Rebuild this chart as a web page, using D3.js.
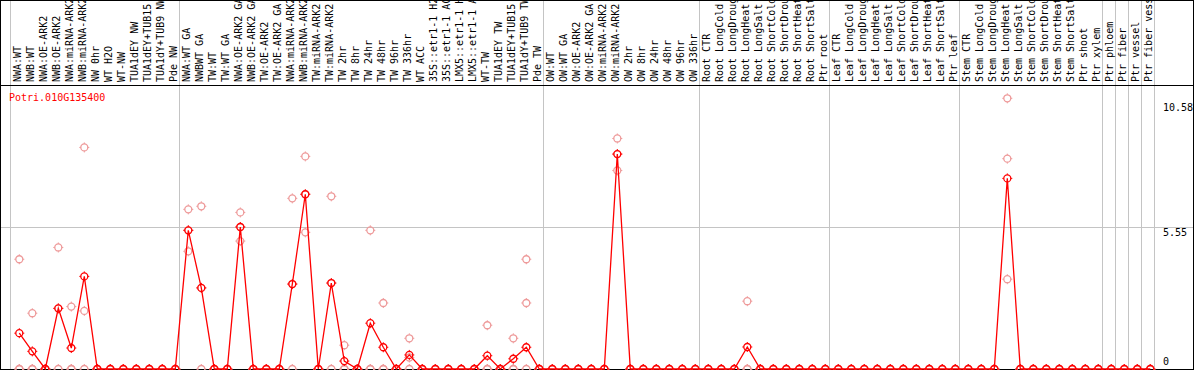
<!DOCTYPE html>
<html>
<head>
<meta charset="utf-8">
<script src="https://cdn.jsdelivr.net/npm/d3@7"></script>
<style>
  body { margin: 0; background: #fff; }
  svg { display: block; font-family: "DejaVu Sans Mono", monospace; }
</style>
</head>
<body>
<svg id="chart" width="1194" height="370"></svg>
<script>
/*
* Expression profile, one gene across 88 samples
*/

let geneName = 'Potri.010G135400';

let sampleLabels = [
  'NWA:WT', 'NWB:WT', 'NWA:OE-ARK2', 'NWB:OE-ARK2', 'NWA:miRNA-ARK2', 'NWB:miRNA-ARK2',
  'NW 0hr', 'WT H2O', 'WT-NW', 'TUA1dEY NW', 'TUA1dEY+TUB15 NW', 'TUA1dY+TUB9 NW', 'Pde NW',
  'NWA:WT GA', 'NWBWT GA', 'TW:WT', 'TW:WT GA', 'NWA:OE-ARK2 GA', 'NWB:OE-ARK2 GA',
  'TW:OE-ARK2', 'TW:OE-ARK2 GA', 'NWA:miRNA-ARK2 GA', 'NWB:miRNA-ARK2 GA', 'TW:miRNA-ARK2',
  'TW:miRNA-ARK2 GA', 'TW 2hr', 'TW 8hr', 'TW 24hr', 'TW 48hr', 'TW 96hr', 'TW 336hr', 'WT ACC',
  '35S::etr1-1 H2O', '35S::etr1-1 ACC', 'LMX5::etr1-1 H2O', 'LMX5::etr1-1 ACC', 'WT-TW',
  'TUA1dEY TW', 'TUA1dEY+TUB15 TW', 'TUA1dY+TUB9 TW', 'Pde TW',
  'OW:WT', 'OW:WT GA', 'OW:OE-ARK2', 'OW:OE-ARK2 GA', 'OW:miRNA-ARK2', 'OW:miRNA-ARK2 GA',
  'OW 2hr', 'OW 8hr', 'OW 24hr', 'OW 48hr', 'OW 96hr', 'OW 336hr',
  'Root CTR', 'Root LongCold', 'Root LongDrought', 'Root LongHeat', 'Root LongSalt',
  'Root ShortCold', 'Root ShortDrought', 'Root ShortHeat', 'Root ShortSalt', 'Ptr root',
  'Leaf CTR', 'Leaf LongCold', 'Leaf LongDrought', 'Leaf LongHeat', 'Leaf LongSalt',
  'Leaf ShortCold', 'Leaf ShortDrought', 'Leaf ShortHeat', 'Leaf ShortSalt', 'Ptr leaf',
  'Stem CTR', 'Stem LongCold', 'Stem LongDrought', 'Stem LongHeat', 'Stem LongSalt',
  'Stem ShortCold', 'Stem ShortDrought', 'Stem ShortHeat', 'Stem ShortSalt', 'Ptr shoot',
  'Ptr xylem', 'Ptr phloem', 'Ptr fiber', 'Ptr vessel', 'Ptr fiber vessel'
];

// mean expression per sample
let meanValues = [
  1.40, 0.69, 0, 2.37, 0.82, 3.62, 0, 0, 0, 0, 0, 0, 0,
  5.42, 3.17, 0, 0, 5.55, 0, 0, 0, 3.32, 6.83, 0, 3.36, 0.31, 0, 1.79, 0.85, 0, 0.55,
  0, 0, 0, 0, 0, 0.52, 0, 0.40, 0.85, 0,
  0, 0, 0, 0, 0, 8.40, 0, 0, 0, 0, 0, 0,
  0, 0, 0, 0.86, 0, 0, 0, 0, 0, 0,
  0, 0, 0, 0, 0, 0, 0, 0, 0, 0,
  0, 0, 0, 7.45, 0, 0, 0, 0, 0, 0,
  0, 0, 0, 0, 0
];

// replicate values per sample
let rep1 = [
  4.29, 2.18, 0, 4.75, 2.44, 8.66, 0, 0, 0, 0, 0, 0, 0,
  6.24, 6.36, 0, 0, 6.12, 0, 0, 0, 6.67, 8.31, 0, 6.75, 0.93, 0, 5.42, 2.58, 0, 1.20,
  0, 0, 0, 0, 0, 1.71, 0, 1.20, 4.29, 0,
  0, 0, 0, 0, 0, 9.01, 0, 0, 0, 0, 0, 0,
  0, 0, 0, 2.65, 0, 0, 0, 0, 0, 0,
  0, 0, 0, 0, 0, 0, 0, 0, 0, 0,
  0, 0, 0, 10.58, 0, 0, 0, 0, 0, 0,
  0, 0, 0, 0, 0
];
let rep2 = [
  0, 0, 0, 2.37, 0, 2.27, 0, 0, 0, 0, 0, 0, 0,
  4.60, 3.17, 0, 0, 5.00, 0, 0, 0, 3.32, 5.34, 0, 3.36, 0, 0, 0, 0, 0, 0.45,
  0, 0, 0, 0, 0, 0, 0, 0, 2.58, 0,
  0, 0, 0, 0, 0, 7.76, 0, 0, 0, 0, 0, 0,
  0, 0, 0, 0, 0, 0, 0, 0, 0, 0,
  0, 0, 0, 0, 0, 0, 0, 0, 0, 0,
  0, 0, 0, 8.22, 0, 0, 0, 0, 0, 0,
  0, 0, 0, 0, 0
];
let rep3 = [
  0, 0, 0, 0, 0, 0, 0, 0, 0, 0, 0, 0, 0,
  5.42, 0, 0, 0, 5.55, 0, 0, 0, 0, 6.83, 0, 0, 0, 0, 0, 0, 0, 0,
  0, 0, 0, 0, 0, 0, 0, 0, 0, 0,
  0, 0, 0, 0, 0, 8.40, 0, 0, 0, 0, 0, 0,
  0, 0, 0, 0, 0, 0, 0, 0, 0, 0,
  0, 0, 0, 0, 0, 0, 0, 0, 0, 0,
  0, 0, 0, 3.51, 0, 0, 0, 0, 0, 0,
  0, 0, 0, 0, 0
];

// index after which a tissue group ends
let groupEnds = [13, 41, 53, 63, 73, 84, 85, 86, 87, 88];
let yTicks = [10.58, 5.55, 0];
let yMax = 11.1;

let COLORS = {
  mean: '#ff0000',
  rep: '#ee9a9a',
  grid: '#c4c4c4',
  axis: '#000000'
};

let width = 1194;
let height = 370;
let headerBottom = 85;
let plotBottom = 369;
let colStep = 13;
let gridLeft = 11.2;
let pointOffset = 8.1;

window.onload = function () {
  drawChart();
};

function drawChart() {
  let svg = d3.select('#chart');

  let x = d3.scaleLinear()
    .domain([0, sampleLabels.length])
    .range([gridLeft, gridLeft + sampleLabels.length * colStep]);
  let y = d3.scaleLinear()
    .domain([0, yMax])
    .range([plotBottom, headerBottom]);
  let cx = i => x(i) + pointOffset;

  // grid
  let grid = svg.append('g').attr('class', 'grid').attr('shape-rendering', 'crispEdges');
  grid.selectAll('.vline')
    .data([0].concat(groupEnds))
    .enter().append('line')
      .attr('class', 'vline')
      .attr('x1', d => Math.round(x(d)) - 0.5)
      .attr('x2', d => Math.round(x(d)) - 0.5)
      .attr('y1', 0)
      .attr('y2', plotBottom)
      .style('stroke', COLORS.grid);

  grid.append('line')
    .attr('x1', 0)
    .attr('x2', width)
    .attr('y1', Math.round(y(5.55)) + 0.5)
    .attr('y2', Math.round(y(5.55)) + 0.5)
    .style('stroke', COLORS.grid);

  // frame
  let frame = svg.append('g').attr('class', 'frame').attr('shape-rendering', 'crispEdges')
    .style('stroke', COLORS.axis).style('fill', 'none');
  frame.append('rect')
    .attr('x', 0.5).attr('y', 0.5)
    .attr('width', width - 1.5).attr('height', plotBottom);
  frame.append('line')
    .attr('x1', 0).attr('x2', width)
    .attr('y1', headerBottom + 0.5).attr('y2', headerBottom + 0.5);

  // sample labels
  svg.append('g').attr('class', 'labels')
    .selectAll('text')
    .data(sampleLabels)
    .enter().append('text')
      .attr('transform', (d, i) => 'translate(' + (cx(i) + 1.8) + ',' + (headerBottom - 3) + ') rotate(-90)')
      .style('font-size', '10px')
      .style('fill', '#000')
      .text(d => d);

  // replicate markers
  let reps = [];
  sampleLabels.forEach(function (s, i) {
    [rep1[i], rep2[i], rep3[i]].forEach(function (v) {
      reps.push({ i: i, v: v });
    });
  });
  let repG = svg.append('g').attr('class', 'replicates');
  reps.forEach(function (d) {
    drawMarker(repG, cx(d.i), y(d.v), COLORS.rep);
  });

  // mean line
  let line = d3.line()
    .x((d, i) => cx(i))
    .y(d => y(d));
  svg.append('path')
    .attr('d', line(meanValues))
    .style('fill', 'none')
    .style('stroke', COLORS.mean)
    .style('stroke-width', 1.3);

  let meanG = svg.append('g').attr('class', 'means');
  meanValues.forEach(function (v, i) {
    drawMarker(meanG, cx(i), y(v), COLORS.mean);
  });

  // gene name
  svg.append('text')
    .attr('x', 9)
    .attr('y', 101)
    .style('font-size', '10px')
    .style('fill', COLORS.mean)
    .text(geneName);

  // value labels
  svg.append('g').attr('class', 'ylabels')
    .selectAll('text')
    .data(yTicks)
    .enter().append('text')
      .attr('x', 1163)
      .attr('y', d => Math.max(111, Math.min(y(d) + 9, plotBottom - 4)))
      .style('font-size', '10px')
      .style('fill', '#000')
      .text(d => d);
}

function drawMarker(g, px, py, color) {
  let m = g.append('g').attr('transform', 'translate(' + px + ',' + py + ')');
  m.append('circle')
    .attr('r', 3.5)
    .style('fill', 'none')
    .style('stroke', color)
    .style('stroke-width', 1.3);
  [[0, -1], [0, 1], [-1, 0], [1, 0]].forEach(function (o) {
    m.append('line')
      .attr('x1', o[0] * 3.5).attr('y1', o[1] * 3.5)
      .attr('x2', o[0] * 5).attr('y2', o[1] * 5)
      .style('stroke', color)
      .style('stroke-width', 1);
  });
}
</script>
</body>
</html>
